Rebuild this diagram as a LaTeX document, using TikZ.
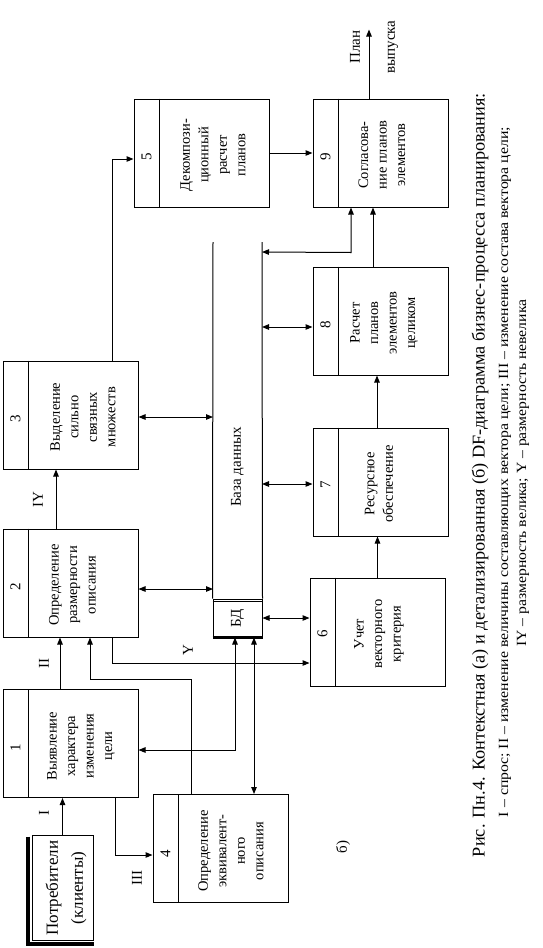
\documentclass[tikz,border=0pt]{standalone}
\usepackage{fontspec}
\usepackage{graphicx}
\setmainfont{Liberation Serif}
\usetikzlibrary{arrows.meta,calc}
\begin{document}
\begin{tikzpicture}[x=1pt,y=-1pt,
  box/.style={draw,line width=1pt,minimum width=135pt,minimum height=108pt,inner sep=0pt},
  txt/.style={rotate=90,align=center,font=\fontsize{14.5}{18.5}\selectfont,inner sep=0pt},
  num/.style={rotate=90,font=\fontsize{15}{18}\selectfont,inner sep=0pt},
  lbl/.style={rotate=90,font=\fontsize{15}{18}\selectfont,inner sep=0pt},
  ln/.style={line width=1pt},
  arr/.style={line width=1pt,-{Triangle[length=7pt,width=5.5pt]}},
  darr/.style={line width=1pt,{Triangle[length=7pt,width=5.5pt]}-{Triangle[length=7pt,width=5.5pt]}}]
\useasboundingbox[fill=white] (0,0) rectangle (542,948);

% process boxes
\node[box] (b1) at (70.5,743.5) {};
\node[box] (b2) at (70.5,583) {};
\node[box] (b3) at (70.5,415) {};
\node[box] (b4) at (220.5,848.5) {};
\node[box] (b5) at (201.5,153) {};
\node[box] (b6) at (377.5,632) {};
\node[box] (b7) at (380.5,482) {};
\node[box] (b8) at (380.5,321) {};
\node[box] (b9) at (380.5,153) {};
\foreach \b in {b1,b2,b3,b4,b5,b6,b7,b8,b9}{
  \draw[ln] ($(\b.north west)+(26,0)$) -- ($(\b.south west)+(26,0)$);
}
\node[num] (n1) at ($(b1.west)+(13,4)$) {1};
\node[num] (n2) at ($(b2.west)+(13,4)$) {2};
\node[num] (n3) at ($(b3.west)+(13,4)$) {3};
\node[num] (n4) at ($(b4.west)+(13,5)$) {4};
\node[num] (n5) at ($(b5.west)+(13,4)$) {5};
\node[num] (n6) at ($(b6.west)+(13,2)$) {6};
\node[num] (n7) at ($(b7.west)+(13,3)$) {7};
\node[num] (n8) at ($(b8.west)+(13,4)$) {8};
\node[num] (n9) at ($(b9.west)+(13,4)$) {9};

\node[txt] (t1) at (81,746) {Выявление\\характера\\изменения\\цели};
\node[txt] (t2) at (72.5,585) {Определение\\размерности\\описания};
\node[txt] (t3) at (83,417) {Выделение\\сильно\\связных\\множеств};
\node[txt] (t4) at (231,851) {Определение\\эквивалент-\\ного\\описания};
\node[txt] (t5) at (213,155) {Декомпози-\\ционный\\расчет\\планов};
\node[txt] (t6) at (379,634) {Учет\\векторного\\критерия};
\node[txt] (t7) at (379,484) {Ресурсное\\обеспечение};
\node[txt] (t8) at (384,323) {Расчет\\планов\\элементов\\целиком};
\node[txt] (t9) at (382,155) {Согласова-\\ние планов\\элементов};

% external entity
\node[draw,line width=1pt,minimum width=61pt,minimum height=105pt,inner sep=0pt] (pot) at (62.5,887.5) {};
\draw[line width=3.5pt] ($(pot.north west)+(-3.5,2)$) -- ($(pot.south west)+(-3.5,3.5)$) -- ($(pot.south east)+(0,3.5)$);
\node[rotate=90,align=center,font=\fontsize{17}{25}\selectfont,inner sep=0pt] (tp) at (66,888) {Потребители\\(клиенты)};

% database
\node[draw,line width=1pt,minimum width=49pt,minimum height=38pt,inner sep=0pt] (bd) at (237.5,618) {};
\draw[line width=0.8pt] ($(bd.north west)+(0,3)$) -- ($(bd.north east)+(0,3)$);
\draw[line width=2.5pt] (bd.south west) -- (bd.south east);
\node[lbl] (tbd) at (237.5,618) {БД};
\coordinate (dbl) at (213,242);
\coordinate (dbr) at (262,242);
\draw[ln] (dbl) -- (bd.north west);
\draw[ln] (dbr) -- (bd.north east);
\node[lbl] (tdb) at (237.5,467) {База данных};

% flows
\draw[arr] (pot.north) -- (pot.north |- b1.south);
\node[lbl] (lI) at (44,813) {I};
\draw[arr] ($(b1.north)+(-10.5,0)$) coordinate (s2) -- (s2 |- b2.south);
\node[lbl] (lII) at (44,663) {II};
\draw[arr] ($(b2.north)+(-14.5,0)$) coordinate (s3) -- (s3 |- b3.south);
\node[lbl] (lIY) at (38,500) {IY};
\draw[arr] ($(b1.south)+(44.5,0)$) |- ($(b4.west)+(0,6.5)$);
\node[lbl] (lIII) at (137,878) {III};
\draw[arr] ($(b4.north)+(-29.5,0)$) -- ++(0,-115) -| ($(b2.south)+(19.5,0)$);
\draw[darr] ($(bd.south)+(-2.5,0)$) |- ($(b1.east)+(0,6.5)$);
\draw[darr] ($(bd.south)+(16.5,0)$) coordinate (s4) -- (s4 |- b4.north);
\draw[arr] ($(b2.south)+(41.5,0)$) |- ($(b6.west)+(0,31)$);
\node[lbl] (lY) at (188,650) {Y};
\draw[darr] ($(b2.east)+(0,6)$) coordinate (e2) -- (e2 -| dbl);
\draw[darr] ($(b3.east)+(0,2)$) coordinate (e3) -- (e3 -| dbl);
\draw[darr] (bd.east) -- (bd.east -| b6.west);
\draw[darr] ($(b7.west)+(0,2)$) coordinate (w7) -- (w7 -| dbr);
\draw[darr] ($(b8.west)+(0,6)$) coordinate (w8) -- (w8 -| dbr);
\draw[darr] ($(b9.south)+(-29.5,0)$) -- ++(0,45) -- ($(dbr)+(0,10)$);
\draw[arr] (b6.north) -- (b6.north |- b7.south);
\draw[arr] ($(b7.north)+(-3.5,0)$) coordinate (s8) -- (s8 |- b8.south);
\draw[arr] ($(b8.north)+(-7.5,0)$) coordinate (s9) -- (s9 |- b9.south);
\draw[arr] ($(b3.north)+(41.5,0)$) |- ($(b5.west)+(0,6)$);
\draw[arr] (b5.east) -- (b5.east -| b9.west);
\draw[arr] ($(b9.north)+(-11.5,0)$) -- ++(0,-69) coordinate (out);
\node[lbl] (lplan) at (355,47) {План};
\node[lbl] (lvyp) at (393,47) {выпуска};

\node[lbl] (lb) at (343,847) {б)};

% caption
\node[rotate=90,inner sep=0pt] (cap1) at (480,475) {\resizebox{764pt}{\height}{\fontsize{18}{20}\selectfont Рис. Пн.4. Контекстная (а) и детализированная (б) DF-диаграмма бизнес-процесса планирования:}};
\node[rotate=90,inner sep=0pt] (cap2) at (505,472) {\resizebox{690pt}{\height}{\fontsize{14}{16}\selectfont I – спрос; II – изменение величины составляющих вектора цели; III – изменение состава вектора цели;}};
\node[rotate=90,inner sep=0pt] (cap3) at (523,473) {\resizebox{347pt}{\height}{\fontsize{14}{16}\selectfont IY – размерность велика; Y – размерность невелика}};
\end{tikzpicture}
\end{document}
